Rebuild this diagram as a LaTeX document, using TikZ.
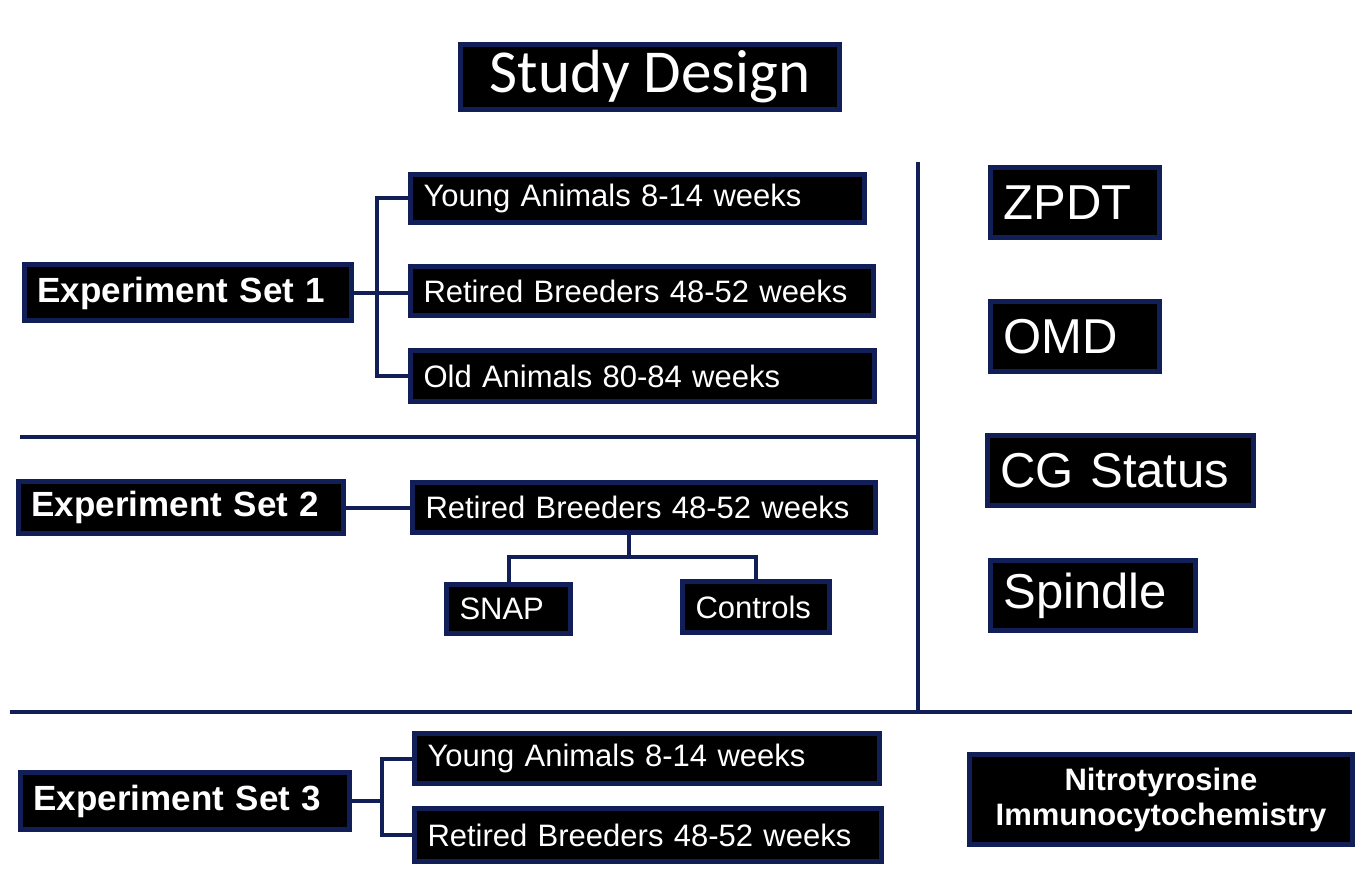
\documentclass[tikz,border=0pt]{standalone}
\usepackage{fontspec}
\setmainfont{Liberation Sans}
\newfontfamily\titlefont{Carlito}
\usepackage{tikz}
\definecolor{navy}{RGB}{18,30,88}

\begin{document}
\begin{tikzpicture}[x=1pt,y=-1pt,
    box/.style={draw=navy,line width=5pt,fill=black,text=white,inner xsep=13pt,inner ysep=0pt,align=left},
    rowtxt/.style={font=\fontsize{31}{36}\selectfont},
    settxt/.style={font=\bfseries\fontsize{35}{40}\selectfont},
    bigtxt/.style={font=\fontsize{49}{56}\selectfont},
    link/.style={draw=navy,line width=4pt},
    divider/.style={draw=navy,line width=4.5pt}]
  \useasboundingbox (0,0) rectangle (1358,885);
  \node[box,align=center,minimum width=379pt,minimum height=65pt,font=\titlefont\fontsize{61}{70}\selectfont] (design) at (650,77) {Study Design};
  % experiment set 1
  \node[box,settxt,text width=301pt,minimum height=56pt] (exp1) at (188,293) {Experiment Set 1};
  \node[box,rowtxt,text width=428pt,minimum height=48pt] (young1) at (637.5,198.5) {Young Animals 8-14 weeks};
  \node[box,rowtxt,text width=437pt,minimum height=49pt] (retired1) at (642,291) {Retired Breeders 48-52 weeks};
  \node[box,rowtxt,text width=438pt,minimum height=51pt] (old1) at (642.5,376) {Old Animals 80-84 weeks};
  \coordinate (j1) at (377,293);
  \draw[link] (exp1.east) -- (exp1.east -| retired1.west);
  \draw[link] (young1.west) -| (j1) |- (old1.west);
  % experiment set 2
  \node[box,settxt,text width=299pt,minimum height=52pt] (exp2) at (181,507.5) {Experiment Set 2};
  \node[box,rowtxt,text width=437pt,minimum height=50pt] (retired2) at (644,507.5) {Retired Breeders 48-52 weeks};
  \node[box,rowtxt,text width=98pt,minimum height=49pt] (snap) at (508.5,609) {SNAP};
  \node[box,rowtxt,text width=121pt,minimum height=51pt] (controls) at (756,607) {Controls};
  \coordinate (j2) at (629,557);
  \draw[link] (exp2.east) -- (retired2.west);
  \draw[link] (j2 |- retired2.south) -- (j2);
  \draw[link] (snap.north) |- (j2) -| (controls.north);
  % experiment set 3
  \node[box,settxt,text width=303pt,minimum height=57pt] (exp3) at (185,801) {Experiment Set 3};
  \node[box,rowtxt,text width=439pt,minimum height=50pt] (young3) at (647,758.5) {Young Animals 8-14 weeks};
  \node[box,rowtxt,text width=441pt,minimum height=53pt] (retired3) at (648,835) {Retired Breeders 48-52 weeks};
  \coordinate (j3) at (382,801);
  \draw[link] (exp3.east) -- (j3);
  \draw[link] (young3.west) -| (j3) |- (retired3.west);
  % outcome measures
  \foreach \nm/\cx/\cy/\bw/\txt in {zpdt/1075/202.5/143/ZPDT, omd/1075/336.5/143/OMD, cg/1120.5/470.5/240/CG Status, spindle/1093/595.5/179/Spindle}{
    \node[box,bigtxt,text width=\bw pt,minimum height=70pt] (\nm) at (\cx,\cy) {\txt};
  }
  \node[box,align=center,text width=357pt,minimum height=90pt,font=\bfseries\fontsize{31}{35}\selectfont] (nitro) at (1161,799.5) {Nitrotyrosine\\Immunocytochemistry};
  % dividers
  \coordinate (d1a) at (20,437);
  \coordinate (d1b) at (918,437);
  \coordinate (vtop) at (918,162);
  \coordinate (d2a) at (10,712);
  \coordinate (d2b) at (1352,712);
  \draw[divider] (d1a) -- (d1b);
  \draw[divider] (vtop) -- (vtop |- d2a);
  \draw[divider] (d2a) -- (d2b);
\end{tikzpicture}
\end{document}
